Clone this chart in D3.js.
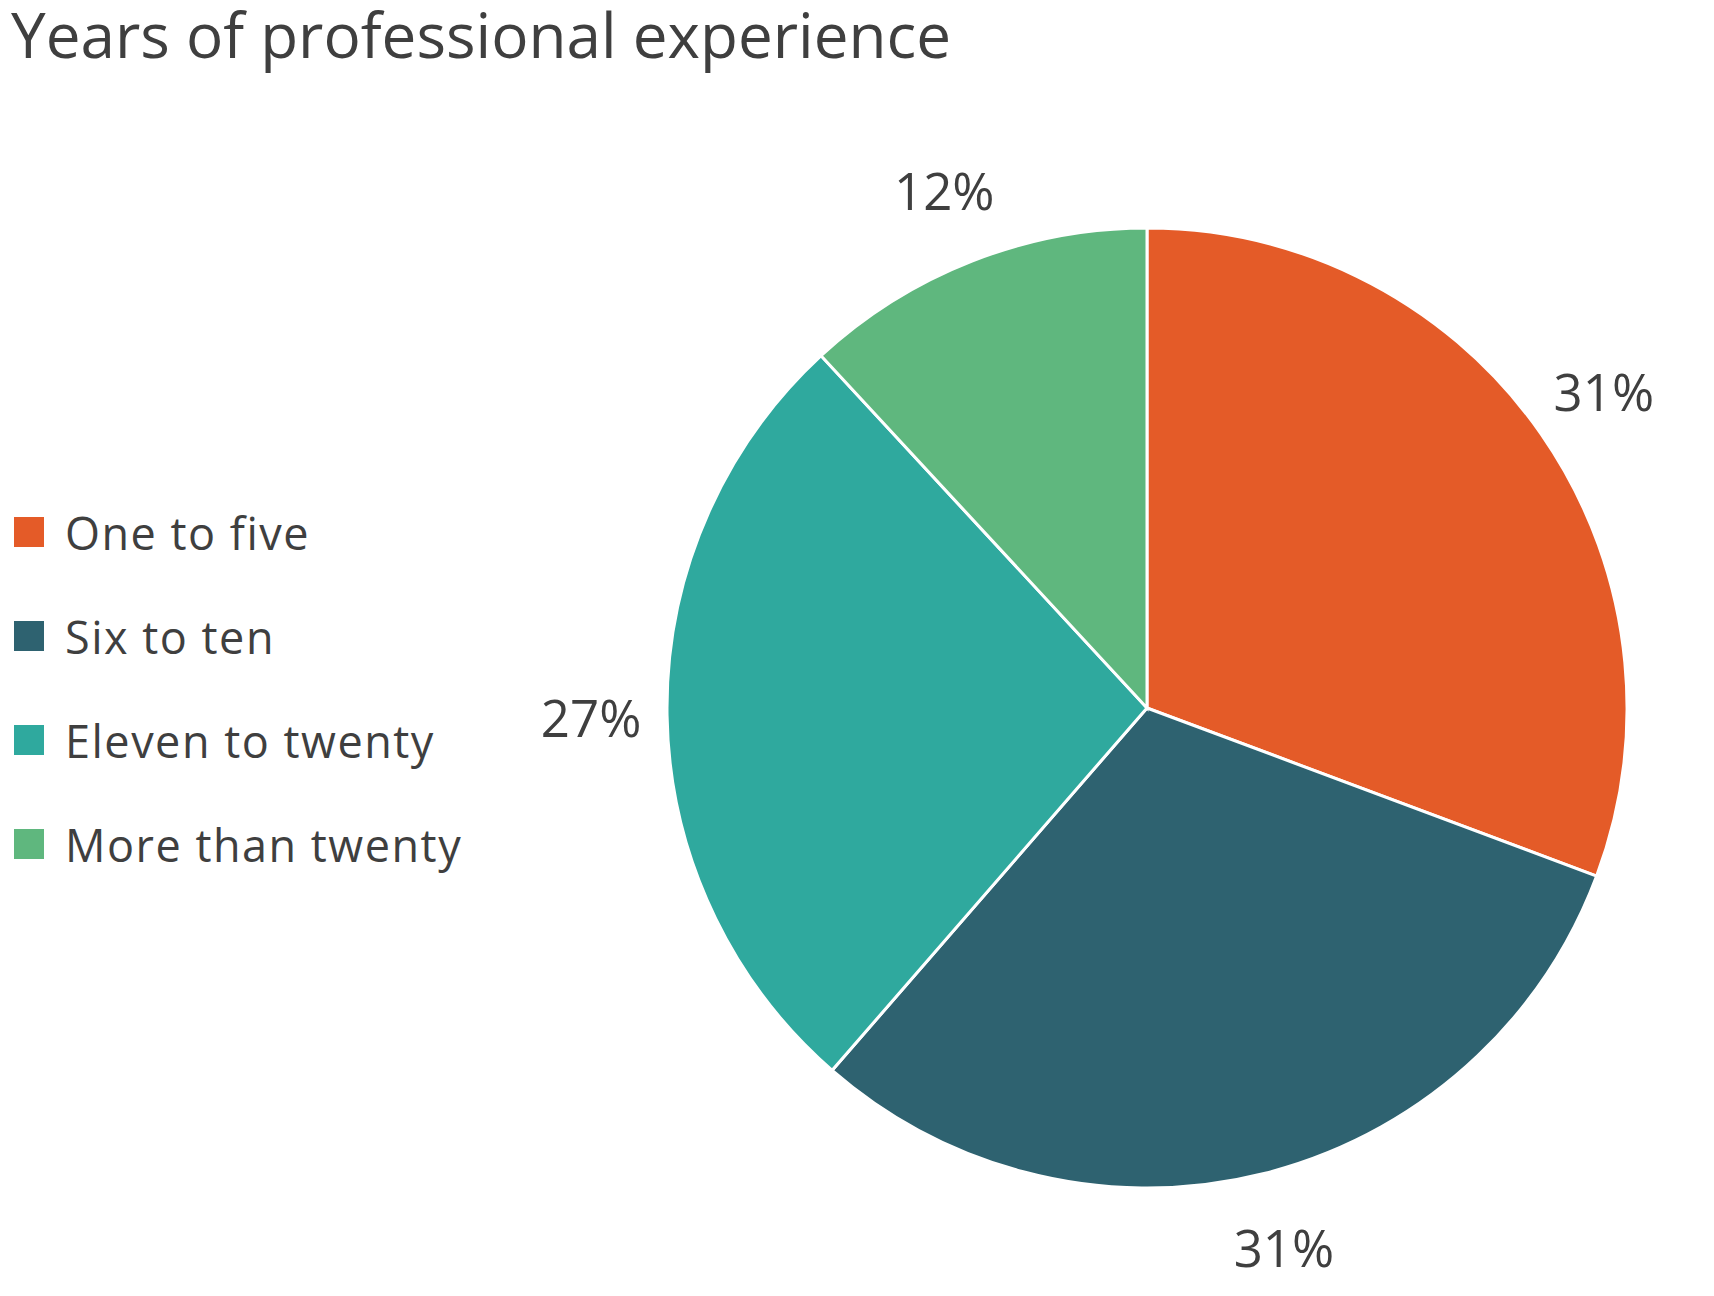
<!DOCTYPE html>
<html><head><meta charset="utf-8">
<script src="https://cdn.jsdelivr.net/npm/d3@7"></script>
<style>body{margin:0;background:#fff}</style></head>
<body><svg id="c" width="1714" height="1296"></svg>
<script>
const categories = ["One to five","Six to ten","Eleven to twenty","More than twenty"];
const values = [31,31,27,12];
const labels = ["31%","31%","27%","12%"];
const colors = ["#E45B28","#2E6270","#2FA99E","#5FB77E"];

const svg = d3.select("#c");
const font = "'Open Sans', sans-serif", tc = "#3f3f3f";
svg.append("text").attr("x",11).attr("y",58).attr("font-family",font).attr("font-size",62)
  .attr("fill",tc).text("Years of professional experience");

const cx=1147, cy=708, r=480;
const pie = d3.pie().sort(null).value(d=>d)(values);
const arc = d3.arc().innerRadius(0).outerRadius(r);
const lab = d3.arc().innerRadius(556).outerRadius(556);
const g = svg.append("g").attr("transform",`translate(${cx},${cy})`);
g.selectAll("path").data(pie).join("path").attr("d",arc)
  .attr("fill",(d,i)=>colors[i]).attr("stroke","#fff").attr("stroke-width",3);
g.selectAll("text").data(pie).join("text")
  .attr("transform",d=>`translate(${lab.centroid(d)})`)
  .attr("text-anchor","middle").attr("dominant-baseline","central")
  .attr("font-family",font).attr("font-size",51).attr("fill",tc)
  .text((d,i)=>labels[i]);

const y = d3.scalePoint().domain(categories).range([532,844]);
const lg = svg.append("g");
categories.forEach((c,i)=>{
  lg.append("rect").attr("x",14).attr("y",y(c)-15).attr("width",30).attr("height",30).attr("fill",colors[i]);
  lg.append("text").attr("x",65).attr("y",y(c)).attr("dominant-baseline","central")
    .attr("font-family",font).attr("font-size",45).attr("fill",tc).attr("letter-spacing",1.5).text(c);
});
</script></body></html>
